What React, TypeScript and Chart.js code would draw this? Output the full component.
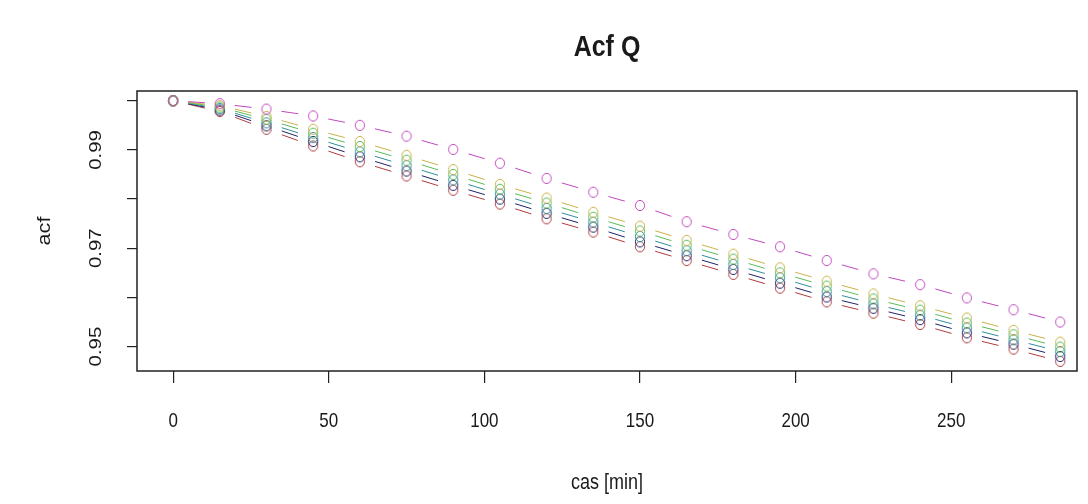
import React, { useEffect, useRef } from "react";
import { Chart, registerables } from "chart.js";

Chart.register(...registerables);

// Lag in minutes (15-minute steps)
const lags = [0, 15, 30, 45, 60, 75, 90, 105, 120, 135, 150, 165, 180, 195, 210, 225, 240, 255, 270, 285];

// Autocorrelation of Q for each series
const acfMagenta = [1.0, 0.9994, 0.9983, 0.9969, 0.995, 0.9928, 0.9901, 0.9873, 0.9842, 0.9814, 0.9787, 0.9754, 0.9728, 0.9703, 0.9675, 0.9648, 0.9626, 0.9599, 0.9575, 0.955];
const acfYellow = [1.0, 0.999, 0.9968, 0.9942, 0.9917, 0.9889, 0.986, 0.983, 0.9802, 0.9773, 0.9745, 0.9716, 0.9688, 0.966, 0.9633, 0.9607, 0.9583, 0.9558, 0.9533, 0.9509];
const acfGreen = [1.0, 0.9987, 0.9962, 0.9934, 0.9907, 0.9879, 0.985, 0.982, 0.9792, 0.9763, 0.9735, 0.9706, 0.9678, 0.965, 0.9623, 0.9597, 0.9574, 0.9548, 0.9524, 0.9499];
const acfTeal = [1.0, 0.9984, 0.9955, 0.9925, 0.9896, 0.9868, 0.9839, 0.981, 0.9781, 0.9753, 0.9724, 0.9695, 0.9667, 0.964, 0.9612, 0.9587, 0.9564, 0.9538, 0.9514, 0.949];
const acfNavy = [1.0, 0.9981, 0.9949, 0.9917, 0.9886, 0.9857, 0.9828, 0.98, 0.9771, 0.9743, 0.9713, 0.9685, 0.9657, 0.9629, 0.9601, 0.9578, 0.9555, 0.9528, 0.9505, 0.948];
const acfRed = [1.0, 0.9978, 0.9942, 0.9908, 0.9876, 0.9847, 0.9818, 0.979, 0.976, 0.9733, 0.9703, 0.9675, 0.9647, 0.9619, 0.9591, 0.9568, 0.9545, 0.9518, 0.9495, 0.947];

// First entry is painted on top
const seriesValues = [acfMagenta, acfYellow, acfGreen, acfTeal, acfNavy, acfRed];
const seriesColors = ["#bf48bf", "#c8b248", "#58bc58", "#2f8f9c", "#1e2266", "#b03a3e"];

const xTicks = [0, 50, 100, 150, 200, 250];
const yTicks = [0.95, 0.96, 0.97, 0.98, 0.99, 1.0];
const yTickLabels = [0.95, 0.97, 0.99];

const FONT = "'Liberation Sans', Arial, sans-serif";
const INK = "#1a1a1a";
const TEXT_STRETCH = 1.2; // glyphs are taller than they are wide

function drawStretchedText(ctx: CanvasRenderingContext2D, text: string, x: number, y: number, font: string, vertical: boolean) {
  ctx.save();
  ctx.translate(x, y);
  if (vertical) {
    ctx.rotate(-Math.PI / 2);
    ctx.scale(TEXT_STRETCH, 1);
  } else {
    ctx.scale(1, TEXT_STRETCH);
  }
  ctx.font = font;
  ctx.fillStyle = INK;
  ctx.textAlign = "center";
  ctx.textBaseline = "middle";
  ctx.fillText(text, 0, 0);
  ctx.restore();
}

function ringMarker(color: string): HTMLCanvasElement {
  const c = document.createElement("canvas");
  c.width = 12;
  c.height = 13;
  const g = c.getContext("2d")!;
  g.strokeStyle = color;
  g.lineWidth = 1;
  g.beginPath();
  g.ellipse(6, 6.5, 4.6, 5.1, 0, 0, Math.PI * 2);
  g.stroke();
  return c;
}

// Frame, titles, tick labels and short connectors between consecutive points.
const basePlotLook = {
  id: "basePlotLook",
  afterDatasetsDraw(chart: any) {
    const { ctx } = chart;
    for (let i = chart.data.datasets.length - 1; i >= 0; i--) {
      const ds = chart.data.datasets[i];
      const pts = chart.getDatasetMeta(i).data;
      ctx.save();
      ctx.strokeStyle = ds.borderColor;
      ctx.lineWidth = 1;
      for (let k = 0; k < pts.length - 1; k++) {
        const a = pts[k];
        const b = pts[k + 1];
        const dx = b.x - a.x;
        const dy = b.y - a.y;
        const len = Math.hypot(dx, dy);
        if (len < 1) continue;
        const ux = dx / len;
        const uy = dy / len;
        const mx = (a.x + b.x) / 2;
        const my = (a.y + b.y) / 2;
        const half = 8.5;
        ctx.beginPath();
        ctx.moveTo(mx - ux * half, my - uy * half);
        ctx.lineTo(mx + ux * half, my + uy * half);
        ctx.stroke();
      }
      ctx.restore();
    }
  },
  afterDraw(chart: any) {
    const { ctx, chartArea } = chart;
    const cx = (chartArea.left + chartArea.right) / 2;
    const cy = (chartArea.top + chartArea.bottom) / 2;
    ctx.save();
    ctx.strokeStyle = "#222";
    ctx.lineWidth = 1.5;
    ctx.strokeRect(chartArea.left, chartArea.top, chartArea.right - chartArea.left, chartArea.bottom - chartArea.top);
    ctx.restore();

    drawStretchedText(ctx, "Acf Q", cx, 48, `bold 25px ${FONT}`, false);

    const xScale = chart.scales.x;
    xTicks.forEach((v) => {
      drawStretchedText(ctx, String(v), xScale.getPixelForValue(v), 421, `17px ${FONT}`, false);
    });
    drawStretchedText(ctx, "cas [min]", cx, 483, `18px ${FONT}`, false);

    const yScale = chart.scales.y;
    yTickLabels.forEach((v) => {
      drawStretchedText(ctx, v.toFixed(2), 96, yScale.getPixelForValue(v), `17px ${FONT}`, true);
    });
    drawStretchedText(ctx, "acf", 45, cy, `18px ${FONT}`, true);
  },
};

export default function App() {
  const canvasRef = useRef<HTMLCanvasElement | null>(null);

  useEffect(() => {
    if (!canvasRef.current) return;
    const datasets = seriesValues.map((vals, i) => ({
      label: `s${i}`,
      data: lags.map((x, k) => ({ x, y: vals[k] })),
      borderColor: seriesColors[i],
      backgroundColor: "transparent",
      pointStyle: ringMarker(seriesColors[i]) as any,
      pointRadius: 5,
      showLine: false,
    }));

    const chart = new Chart(canvasRef.current, {
      type: "line",
      data: { datasets },
      plugins: [basePlotLook],
      options: {
        animation: false,
        responsive: false,
        devicePixelRatio: 1,
        layout: { padding: { top: 91, right: 11, left: 0, bottom: 0 } },
        plugins: { legend: { display: false }, tooltip: { enabled: false }, title: { display: false } },
        scales: {
          x: {
            type: "linear",
            min: -11.6,
            max: 290.4,
            afterBuildTicks: (s: any) => {
              s.ticks = xTicks.map((v) => ({ value: v }));
            },
            afterFit: (s: any) => {
              s.height = 133;
            },
            border: { display: false },
            grid: { drawOnChartArea: false, drawTicks: true, tickLength: 12, color: "#222", lineWidth: 1.2 },
            ticks: { display: false },
          },
          y: {
            type: "linear",
            min: 0.94504,
            max: 1.00198,
            afterBuildTicks: (s: any) => {
              s.ticks = yTicks.map((v) => ({ value: v }));
            },
            afterFit: (s: any) => {
              s.width = 137;
            },
            border: { display: false },
            grid: { drawOnChartArea: false, drawTicks: true, tickLength: 10, color: "#222", lineWidth: 1.2 },
            ticks: { display: false },
          },
        },
      },
    });
    return () => chart.destroy();
  }, []);

  return (
    <div style={{ position: "absolute", left: 0, top: 0, width: 1088, height: 504, background: "#fff" }}>
      <canvas ref={canvasRef} width={1088} height={504} />
    </div>
  );
}
